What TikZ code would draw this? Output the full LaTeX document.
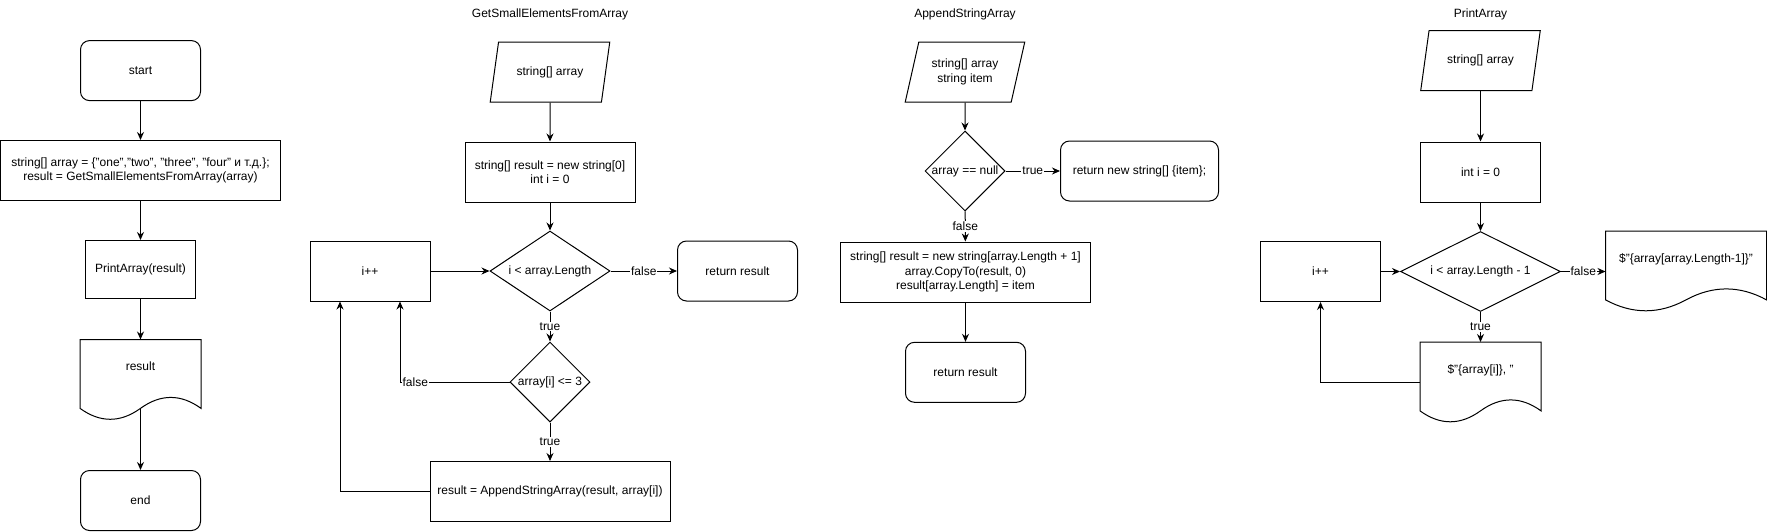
\documentclass[tikz,border=0pt]{standalone}
\usepackage{fontspec}
\setmainfont{Liberation Sans}
\usepackage{tikz}
\usetikzlibrary{calc,shapes.geometric,arrows.meta}

\tikzset{
	term/.style={draw, rounded corners=9pt, minimum width=120pt, minimum height=60pt},
	proc/.style={draw, rectangle, minimum width=120pt, minimum height=60pt, align=center},
	io/.style={draw, trapezium, trapezium left angle=71.6, trapezium right angle=108.4, trapezium stretches=true, minimum width=120pt, minimum height=60pt, align=center},
	cond/.style={draw, diamond, inner sep=0pt, minimum width=80pt, minimum height=80pt},
	doc/.style={rectangle, minimum width=120pt, minimum height=80pt, text depth=27pt},
	lbl/.style={fill=white, inner sep=1pt},
	arr/.style={-{Stealth[length=8pt,width=7pt]}}
}

% wavy outline of a document node
\newcommand{\docline}[1]{%
	\draw let \p1=(#1.north west), \p2=(#1.south east), \n1={\x2-\x1}, \n2={\y1-\y2} in
		(\x1,\y1) -- (\x2,\y1) -- ({\x2},{\y2+0.15*\n2})
		.. controls ({\x2-0.1667*\n1},{\y2+0.33*\n2}) and ({\x1+0.6667*\n1},{\y2+0.33*\n2}) .. ({\x1+0.5*\n1},{\y2+0.15*\n2})
		.. controls ({\x1+0.3333*\n1},{\y2-0.03*\n2}) and ({\x1+0.1667*\n1},{\y2-0.03*\n2}) .. ({\x1},{\y2+0.15*\n2}) -- cycle;}
\newcommand{\dtext}[1]{\makebox[0pt]{#1}}

\begin{document}
\begin{tikzpicture}[x=1pt, y=-1pt, line width=1pt, font=\fontsize{12}{14.5}\selectfont]
	\useasboundingbox (0,0) rectangle (1767,531);

	%main
	\node[term] (start) at (140.5,70.6) {start};
	\node[proc, minimum width=280pt] (init) at (140.5,170.5) {string[] array = \{"one","two", "three", "four" и т.д.\};\\result = GetSmallElementsFromArray(array)};
	\node[proc, minimum width=110pt, minimum height=58pt] (prt) at (140.5,269.5) {PrintArray(result)};
	\node[doc] (res) at (140.5,380) {result};
	\node[term] (stop) at (140.5,500.5) {end};
	\docline{res}
	%
	\draw[arr] (start) -- (init);
	\draw[arr] (init) -- (prt);
	\draw[arr] (prt) -- (res);
	\draw[arr] ([yshift=12pt]res.south) -- (stop);

	%GetSmallElementsFromArray
	\node (t2) at (550,14.5) {GetSmallElementsFromArray};
	\node[io] (par2) at (550,72) {string[] array};
	\node[proc, minimum width=170pt] (init2) at (550,172) {string[] result = new string[0]\\int i = 0};
	\node[cond, minimum width=120pt] (d1) at (550,271) {\dtext{i < array.Length}};
	\node[proc] (inc) at (370,271) {i++};
	\node[term] (ret) at (737.5,271) {return result};
	\node[cond] (d2) at (550,382) {\dtext{array[i] <= 3}};
	\node[proc, minimum width=240pt] (app) at (550,491.5) {result = AppendStringArray(result, array[i])};
	%
	\draw[arr] (par2) -- (init2);
	\draw[arr] (init2) -- (d1);
	\draw[arr] (inc) -- (d1);
	\draw[arr] (d1) -- node[lbl] {false} (ret);
	\draw[arr] (d1) -- node[lbl] {true} (d2);
	\draw[arr] (d2) -- node[lbl] {true} (app);
	\draw[arr] (d2.west) -| node[lbl, pos=0.43] {false} ([xshift=30pt]inc.south);
	\draw[arr] (app.west) -| ([xshift=-30pt]inc.south);

	%AppendStringArray
	\node (t3) at (965,14.5) {AppendStringArray};
	\node[io] (par3) at (965,72) {string[] array\\string item};
	\node[cond] (d3) at (965,171) {\dtext{array == null}};
	\node[term, minimum width=158pt] (retn) at (1139.5,171) {return new string[] \{item\};};
	\node[proc, minimum width=250pt] (app3) at (965.5,272) {string[] result = new string[array.Length + 1]\\array.CopyTo(result, 0)\\result[array.Length] = item};
	\node[term] (ret3) at (965.5,372.3) {return result};
	%
	\draw[arr] (par3) -- (d3);
	\draw[arr] (d3) -- node[lbl] {true} (retn);
	\draw[arr] (d3) -- node[lbl] {false} (app3);
	\draw[arr] (app3) -- (ret3);

	%PrintArray
	\node (t4) at (1480.5,14.5) {PrintArray};
	\node[io] (par4) at (1480.5,60.5) {string[] array};
	\node[proc] (init4) at (1480.5,172) {int i = 0};
	\node[cond, minimum width=160pt] (d4) at (1480.5,271.5) {\dtext{i < array.Length - 1}};
	\node[proc] (inc4) at (1320.5,271.5) {i++};
	\node[doc, minimum width=160pt] (outl) at (1686,271.5) {\$"\{array[array.Length-1]\}"};
	\node[doc] (outi) at (1480.5,382.5) {\$"\{array[i]\}, "};
	\docline{outl}
	\docline{outi}
	%
	\draw[arr] (par4) -- (init4);
	\draw[arr] (init4) -- (d4);
	\draw[arr] (inc4) -- (d4);
	\draw[arr] (d4) -- node[lbl] {false} (outl);
	\draw[arr] (d4) -- node[lbl] {true} (outi);
	\draw[arr] (outi.west) -| (inc4.south);
\end{tikzpicture}
\end{document}
